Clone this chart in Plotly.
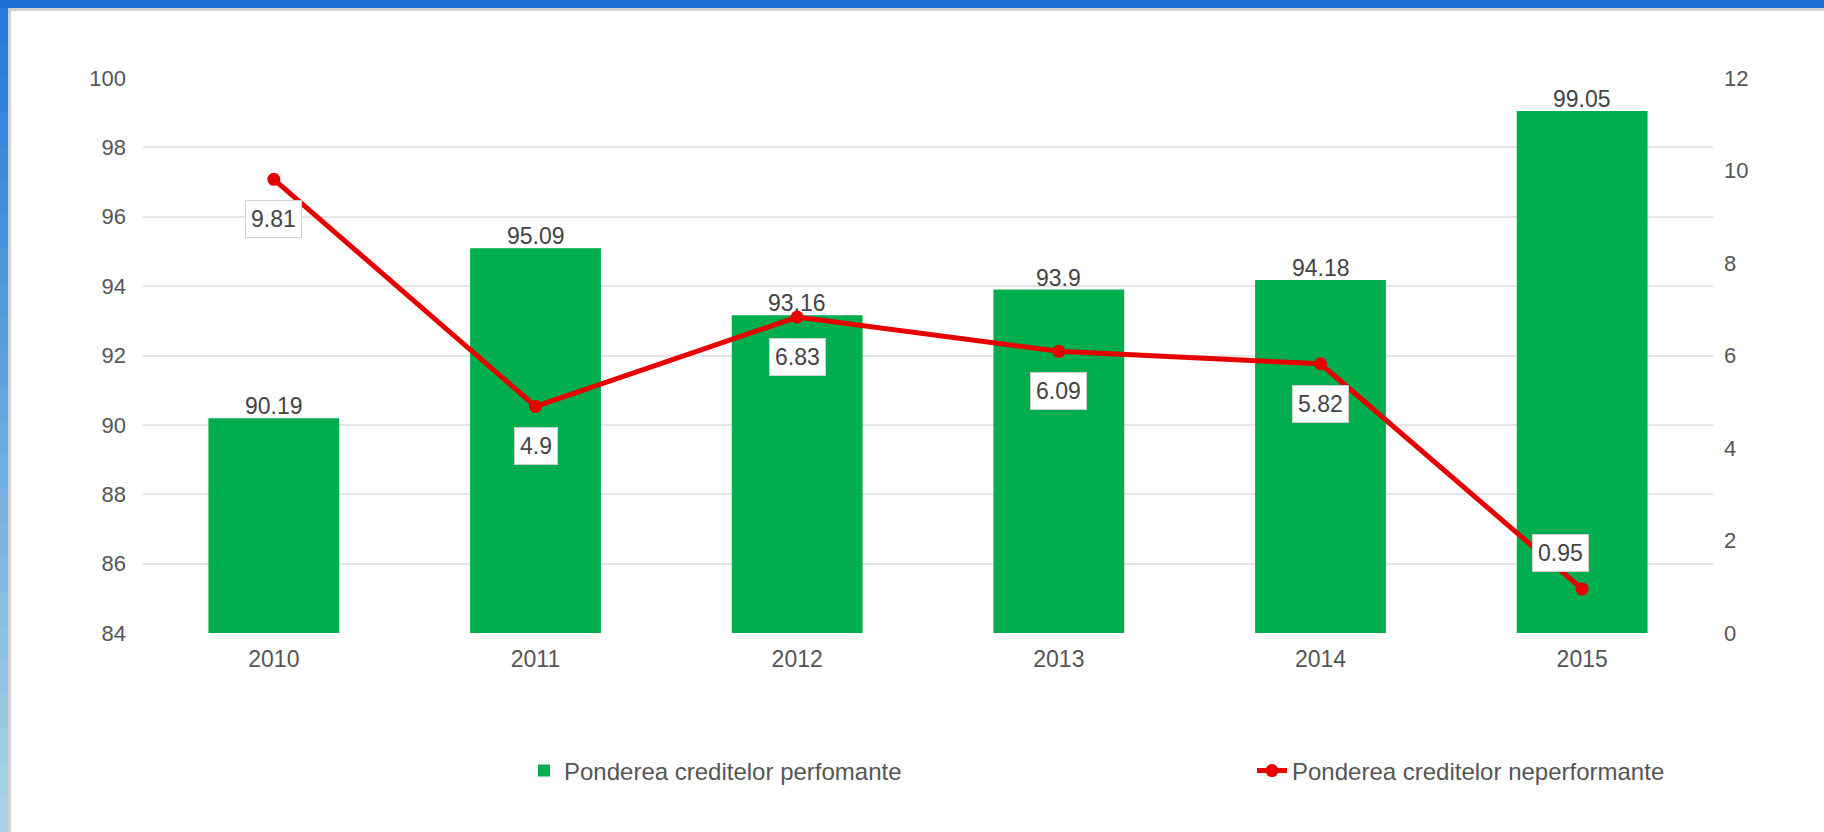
import plotly.graph_objects as go

# ---- data ----
years = ["2010", "2011", "2012", "2013", "2014", "2015"]
perf = [90.19, 95.09, 93.16, 93.9, 94.18, 99.05]
nonperf = [9.81, 4.9, 6.83, 6.09, 5.82, 0.95]
left_ticks = [84, 86, 88, 90, 92, 94, 96, 98, 100]
right_ticks = [0, 2, 4, 6, 8, 10, 12]
name_perf = "Ponderea creditelor perfomante"
name_nonperf = "Ponderea creditelor neperformante"

# ---- geometry ----
W, H = 1824, 832
ML, MR, MT, MB = 143, 111, 78, 199
PW, PH = W - ML - MR, H - MT - MB

def px_x(p):
    return (p - ML) / PW

def px_y(p):
    return (H - MB - p) / PH

FONT = "Liberation Sans, Arial, sans-serif"
TXT = "#555555"
LBL = "#444444"
Y2_MAX = 12

fig = go.Figure()
fig.add_trace(go.Bar(
    x=years, y=perf, name=name_perf, yaxis="y",
    marker=dict(color="#00ad4f", line=dict(width=0)),
    legend="legend",
))
fig.add_trace(go.Scatter(
    x=years, y=nonperf, name=name_nonperf, yaxis="y2",
    mode="lines+markers",
    line=dict(color="#e60000", width=5),
    marker=dict(color="#e60000", size=13),
    cliponaxis=False, legend="legend2",
))

annotations = []
# bar value labels
for i, v in enumerate(perf):
    annotations.append(dict(
        x=i, y=v, xref="x", yref="y", text=str(v), showarrow=False,
        yanchor="bottom", yshift=-3,
        font=dict(size=23, color=LBL, family=FONT),
    ))
# line value labels in white boxes: below the point, or above-left when
# there is no room below it
for i, v in enumerate(nonperf):
    room_below = v / Y2_MAX * PH
    below = room_below > 60
    annotations.append(dict(
        x=i, y=v, xref="x", yref="y2", text=str(v), showarrow=False,
        yshift=-40 if below else 36, xshift=0 if below else -22,
        bgcolor="white", bordercolor="#cfcfcf", borderwidth=1,
        borderpad=5, font=dict(size=23, color=LBL, family=FONT),
    ))

shapes = []
# top blue strip
shapes.append(dict(type="rect", xref="paper", yref="paper",
                   x0=px_x(0), x1=px_x(W), y0=px_y(8), y1=px_y(-2),
                   fillcolor="#1a6fd6", line=dict(width=0), layer="above"))
# shadow lines
shapes.append(dict(type="rect", xref="paper", yref="paper",
                   x0=px_x(8), x1=px_x(W), y0=px_y(11), y1=px_y(8),
                   fillcolor="#d0d0d0", line=dict(width=0), layer="above"))
shapes.append(dict(type="rect", xref="paper", yref="paper",
                   x0=px_x(8), x1=px_x(11), y0=px_y(H), y1=px_y(8),
                   fillcolor="#d0d0d0", line=dict(width=0), layer="above"))
# left gradient strip
c0 = (0x22, 0x7c, 0xd8)
c1 = (0xaa, 0xd4, 0xe6)
n = 24
for k in range(n):
    t = k / (n - 1)
    c = tuple(int(round(a + (b - a) * t)) for a, b in zip(c0, c1))
    y_top = 8 + (H - 8) * k / n
    y_bot = 8 + (H - 8) * (k + 1) / n + 1
    shapes.append(dict(type="rect", xref="paper", yref="paper",
                       x0=px_x(-2), x1=px_x(8), y0=px_y(y_bot), y1=px_y(y_top),
                       fillcolor="rgb(%d,%d,%d)" % c, line=dict(width=0), layer="above"))

fig.update_layout(
    width=W, height=H,
    margin=dict(l=ML, r=MR, t=MT, b=MB, pad=0),
    paper_bgcolor="white", plot_bgcolor="white",
    font=dict(family=FONT, size=23, color=TXT),
    bargap=0.5,
    xaxis=dict(type="category", range=[-0.5, len(years) - 0.5], autorange=False,
               showgrid=False, showline=False, zeroline=False,
               ticks="", tickfont=dict(size=23, color=TXT), ticklabelstandoff=10),
    yaxis=dict(range=[84, 100], tickvals=left_ticks, showgrid=True,
               gridcolor="#e6e6e6", gridwidth=2, zeroline=False, showline=False,
               ticks="", tickfont=dict(size=22, color=TXT), ticklabelstandoff=16),
    yaxis2=dict(range=[0, Y2_MAX], tickvals=right_ticks, overlaying="y", side="right",
                showgrid=False, zeroline=False, showline=False, ticks="",
                tickfont=dict(size=22, color=TXT), ticklabelstandoff=10),
    legend=dict(orientation="h", x=px_x(524), y=px_y(771), xanchor="left",
                yanchor="middle", font=dict(size=24, color=TXT, family=FONT),
                bgcolor="rgba(0,0,0,0)"),
    legend2=dict(orientation="h", x=px_x(1252), y=px_y(771), xanchor="left",
                 yanchor="middle", font=dict(size=24, color=TXT, family=FONT),
                 bgcolor="rgba(0,0,0,0)"),
    annotations=annotations,
    shapes=shapes,
    showlegend=True,
)

fig.write_html(
    "out.html",
    config={"displayModeBar": False},
    post_script="document.body.style.margin='0';document.body.style.overflow='hidden';",
)
